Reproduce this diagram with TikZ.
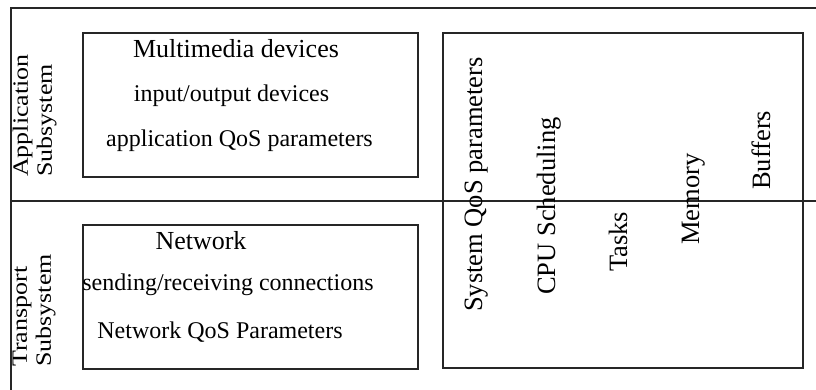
\documentclass[tikz,border=0pt]{standalone}
\usepackage{fontspec}
\setmainfont{Liberation Serif}
\usepackage{graphicx}
\begin{document}
\begin{tikzpicture}[x=1pt,y=-1pt,
  frame/.style={draw=black!85, line width=1.4pt},
  box/.style={draw=black!85, line width=1.4pt, inner sep=0pt},
  title/.style={font=\fontsize{26}{30}\selectfont, anchor=base, inner sep=0pt},
  item/.style={font=\fontsize{24}{28}\selectfont, anchor=base, inner sep=0pt},
  vlabel/.style={font=\fontsize{26.5}{30}\selectfont, rotate=90, anchor=base west, inner sep=0pt},
  sublabel/.style={font=\fontsize{26}{28.5}\selectfont, rotate=90, anchor=north west, inner sep=0pt}
]
\useasboundingbox (0,0) rectangle (816,390);
% frame lines
\coordinate (tl) at (11,8);
\coordinate (tr) at (816,8);
\coordinate (bl) at (11,390);
\coordinate (ml) at (11,201);
\coordinate (mr) at (816,201);
\draw[frame] (tr) -- (tl) -- (bl);
\draw[frame] (ml) -- (mr);
% boxes
\node[box, minimum width=335pt, minimum height=144pt] (appbox) at (250.5,105) {};
\node[box, minimum width=335pt, minimum height=144pt] (netbox) at (250.5,297) {};
\node[box, minimum width=360pt, minimum height=335pt] (sysbox) at (623,200.5) {};
% subsystem labels
\node[sublabel] (applab) at (11,177) {\scalebox{1}[0.84]{\begin{tabular}{@{}l@{}}Application\\Subsystem\end{tabular}}};
\node[sublabel] (translab) at (10,367) {\scalebox{1}[0.84]{\begin{tabular}{@{}l@{}}Transport\\Subsystem\end{tabular}}};
% application box texts
\node[title] (mm) at (236,57.5) {Multimedia devices};
\node[item] (io) at (231.5,101.5) {input/output devices};
\node[item] (aqos) at (239.5,146.5) {application QoS parameters};
% network box texts
\node[title] (net) at (201,249) {Network};
\node[item] (sr) at (228,290) {sending/receiving connections};
\node[item] (nqos) at (220,338) {Network QoS Parameters};
% system box texts
\node[vlabel] (sqos) at (482,312) {System QoS parameters};
\node[vlabel] (cpu) at (555,295) {CPU Scheduling};
\node[vlabel] (tasks) at (627,272) {Tasks};
\node[vlabel] (mem) at (699,245) {Memory};
\node[vlabel] (buf) at (770,190) {Buffers};
\end{tikzpicture}
\end{document}
